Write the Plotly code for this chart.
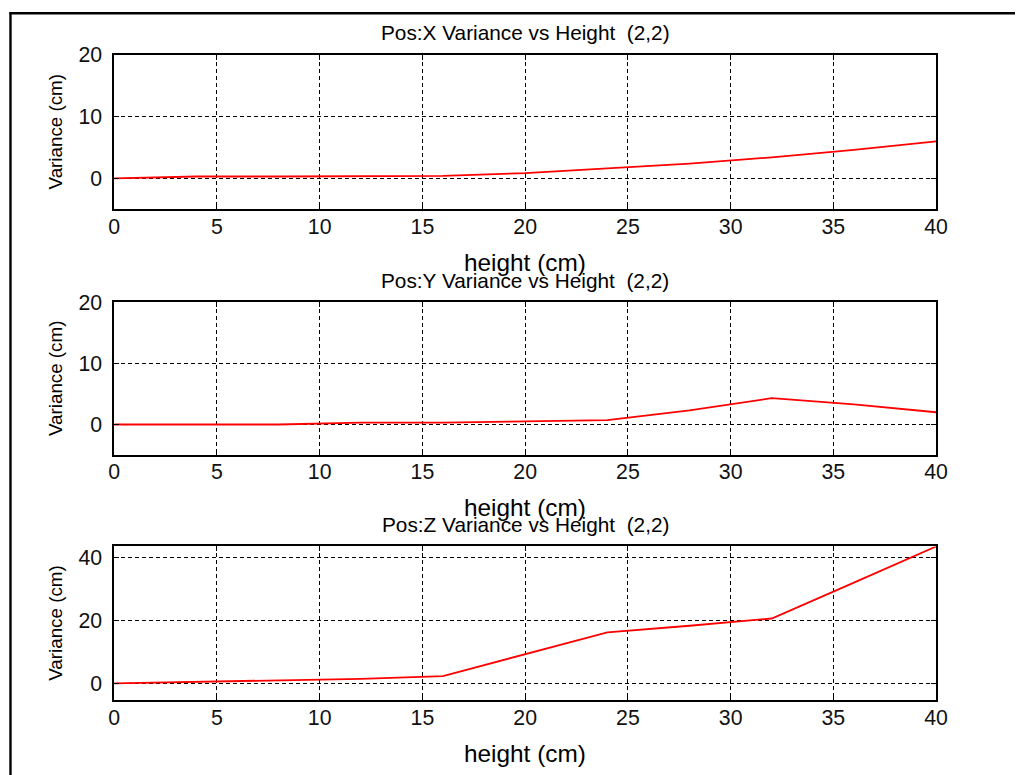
import plotly.graph_objects as go

# ---- data ----
height = [0, 4, 8, 12, 16, 20, 24, 28, 32, 36, 40]
var_x = [0, 0.3, 0.3, 0.35, 0.4, 0.85, 1.6, 2.4, 3.4, 4.6, 6.0]
var_y = [0, 0, 0, 0.3, 0.3, 0.5, 0.7, 2.3, 4.3, 3.3, 2.0]
var_z = [0, 0.5, 0.8, 1.4, 2.3, 9.3, 16.2, 18.3, 20.6, 32.0, 43.5]

titles = ["Pos:X Variance vs Height  (2,2)",
          "Pos:Y Variance vs Height  (2,2)",
          "Pos:Z Variance vs Height  (2,2)"]
xlabel = "height (cm)"
ylabel = "Variance (cm)"
x_ticks = [0, 5, 10, 15, 20, 25, 30, 35, 40]
y_ticks = [[0, 10, 20], [0, 10, 20], [0, 20, 40]]
y_ranges = [[-5, 20], [-5, 20], [-5.4, 43.5]]
series = [var_x, var_y, var_z]

# ---- layout geometry (target pixels, mapped to figure pixels) ----
W, H = 1027, 775
SX, BX = 0.985, 4.5         # observed capture scale / offset compensation
SY, BY = 0.986, 12.0
x_left, x_right = 113, 937
panels_px = [(55, 209.5), (302.7, 455.7), (547.3, 701.3)]

def px2x(p):
    return ((p - BX) / SX) / W

def px2y(p):
    return 1 - ((p - BY) / SY) / H

def fs(size):
    return size / SX

FONT = "Liberation Sans, Arial, sans-serif"

fig = go.Figure()
layout = dict(
    width=W, height=H,
    margin=dict(l=0, r=0, t=0, b=0),
    paper_bgcolor="white", plot_bgcolor="white",
    showlegend=False,
    font=dict(family=FONT, color="black"),
)
annotations = []
for i, (top, bot) in enumerate(panels_px):
    n = "" if i == 0 else str(i + 1)
    fig.add_trace(go.Scatter(x=height, y=series[i], mode="lines",
                             line=dict(color="#ff0000", width=1.8),
                             xaxis="x" + n, yaxis="y" + n))
    axis_common = dict(
        showline=True, linecolor="black", linewidth=1.5, mirror="ticks",
        ticks="inside", ticklen=5, tickcolor="black",
        showgrid=True, gridcolor="black", gridwidth=1, griddash="4px,3px",
        zeroline=False,
        tickfont=dict(family=FONT, size=fs(21), color="#111"),
    )
    layout["xaxis" + n] = dict(
        axis_common, domain=[px2x(x_left), px2x(x_right)],
        range=[0, 40], tickvals=x_ticks, anchor="y" + n,
        ticklabelstandoff=-3,
    )
    layout["yaxis" + n] = dict(
        axis_common, domain=[px2y(bot), px2y(top)],
        range=y_ranges[i], tickvals=y_ticks[i], anchor="x" + n,
        ticklabelstandoff=6,
    )
    cx = px2x((x_left + x_right) / 2)
    annotations.append(dict(text=titles[i], x=cx, y=px2y(top - 22),
                            xref="paper", yref="paper", showarrow=False,
                            xanchor="center", yanchor="middle",
                            font=dict(family=FONT, size=fs(20.5), color="black")))
    annotations.append(dict(text=xlabel, x=cx, y=px2y(bot + 53),
                            xref="paper", yref="paper", showarrow=False,
                            xanchor="center", yanchor="middle",
                            font=dict(family=FONT, size=fs(24), color="black")))
    annotations.append(dict(text=ylabel, x=px2x(54), y=px2y((top + bot) / 2),
                            xref="paper", yref="paper", showarrow=False,
                            textangle=-90, xanchor="center", yanchor="middle",
                            font=dict(family=FONT, size=fs(18.5), color="black")))

layout["annotations"] = annotations
layout["shapes"] = [
    dict(type="line", xref="paper", yref="paper",
         x0=px2x(8), x1=1, y0=1 - 1.2 / H, y1=1 - 1.2 / H,
         line=dict(color="black", width=2.4)),
    dict(type="line", xref="paper", yref="paper",
         x0=px2x(9), x1=px2x(9), y0=1, y1=0,
         line=dict(color="black", width=2.4)),
]
fig.update_layout(**layout)
fig.write_html("out.html")
